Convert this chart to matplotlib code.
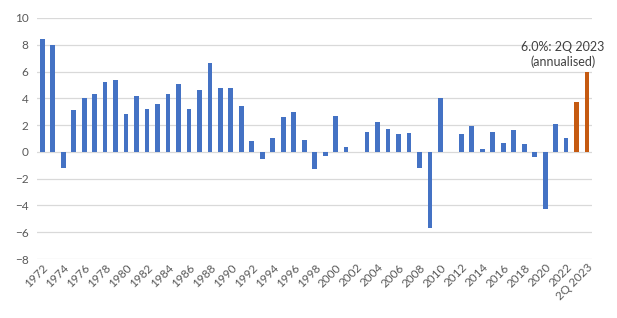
import numpy as np
import matplotlib.pyplot as plt

plt.rcParams['font.family'] = ['Lato', 'DejaVu Sans']

# Annual values 1972-2022, then the two 2023 quarters (annualised)
years = [str(y) for y in range(1972, 2023)]
labels = years + ["1Q 2023", "2Q 2023"]
values = [8.4, 8.0, -1.2, 3.1, 4.0, 4.3, 5.2, 5.4, 2.8, 4.2,
          3.2, 3.6, 4.3, 5.1, 3.2, 4.6, 6.6, 4.8, 4.8, 3.4,
          0.8, -0.5, 1.0, 2.6, 3.0, 0.9, -1.3, -0.3, 2.7, 0.4,
          0.0, 1.5, 2.2, 1.7, 1.3, 1.4, -1.2, -5.7, 4.0, 0.0,
          1.3, 1.9, 0.2, 1.5, 0.7, 1.6, 0.6, -0.4, -4.3, 2.1,
          1.0, 3.7, 6.0]
blue = "#4472C4"
orange = "#C55A11"
colors = [blue] * len(years) + [orange, orange]

fig = plt.figure(figsize=(6.17, 3.18), dpi=100)
ax = fig.add_axes([0.06, 0.1855, 0.90, 0.758])

x = np.arange(len(labels))
ax.bar(x, values, width=0.45, color=colors, zorder=3)

ax.set_xlim(-0.5, len(labels) - 0.5)
ax.set_ylim(-8, 10)
ax.set_yticks(np.arange(-8, 11, 2))
ax.grid(axis="y", color="#D9D9D9", linewidth=0.9, zorder=0)
for s in ax.spines.values():
    s.set_visible(False)

# every other category gets a label, like the original
ax.set_xticks(x[::2])
ax.set_xticklabels(labels[::2], rotation=45, ha="right", rotation_mode="anchor")
ax.tick_params(axis="both", length=0, colors="#595959", labelsize=8.5)
ax.tick_params(axis="x", pad=2)
ax.tick_params(axis="y", pad=6)

ax.text(len(labels) - 3.3, 7.3, "6.0%: 2Q 2023\n(annualised)", ha="center",
        va="center", fontsize=9, color="#404040", linespacing=1.25)

fig.savefig("out.png", dpi=100)
